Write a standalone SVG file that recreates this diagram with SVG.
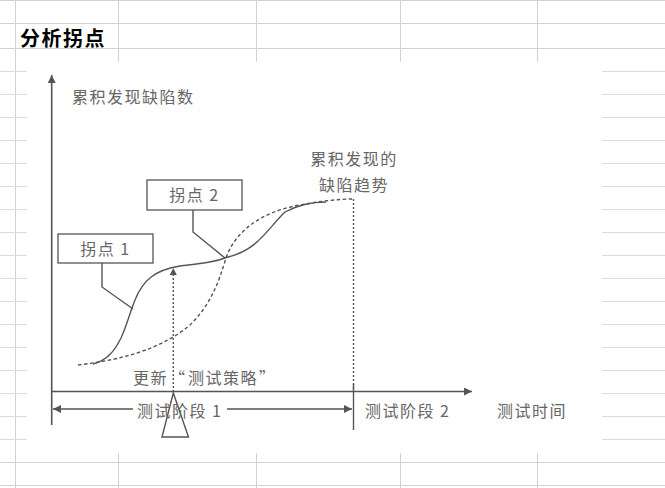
<svg xmlns="http://www.w3.org/2000/svg" width="665" height="488" viewBox="0 0 665 488">
<defs>
<style>
.grid{stroke:#d2d2d2;stroke-width:1;fill:none}
.gridl{stroke:#dcdcdc;stroke-width:1;fill:none}
.ax{stroke:#555;stroke-width:1.6;fill:none}
.ln{stroke:#555;stroke-width:1.4;fill:none}
.dash{stroke:#555;stroke-width:1.4;fill:none;stroke-dasharray:3.5 2.5}
.dot{stroke:#555;stroke-width:1.4;fill:none;stroke-dasharray:2 2}
.box{stroke:#555;stroke-width:1.3;fill:#fff}
.t{font-family:"Noto Sans CJK SC","Liberation Serif",sans-serif;font-size:16px;fill:#666;letter-spacing:1.5px}
.title{font-family:"Noto Sans CJK SC",sans-serif;font-size:20px;font-weight:bold;fill:#000;letter-spacing:1.5px}
</style>
<marker id="ah" viewBox="0 0 10 10" refX="10" refY="5" markerWidth="10" markerHeight="8" markerUnits="userSpaceOnUse" orient="auto-start-reverse">
<path d="M0,0 L10,5 L0,10 Z" fill="#555"/>
</marker>
<marker id="ahs" viewBox="0 0 10 10" refX="10" refY="5" markerWidth="9" markerHeight="7" markerUnits="userSpaceOnUse" orient="auto">
<path d="M0,0 L10,5 L0,10 Z" fill="#555"/>
</marker>
</defs>
<rect width="665" height="488" fill="#fff"/>
<g id="grid">
<path class="grid" d="M0,0.5H665M0,23.5H665M0,48.5H665M0,462.5H665M0,485.5H665"/>
<path class="grid" d="M15.5,0V488M118.5,0V62M256.5,0V62M400.5,0V62M537.5,0V62M118.5,453V488M256.5,453V488M400.5,453V488M537.5,453V488"/>
<path class="gridl" d="M0,71.5H27M0,94.5H27M0,117.5H27M0,140.5H27M0,163.5H27M0,186.5H27M0,209.5H27M0,232.5H27M0,255.5H27M0,278.5H27M0,301.5H27M0,324.5H27M0,347.5H27M0,370.5H27M0,393.5H27M0,416.5H27M0,439.5H27"/>
<path class="gridl" d="M602,71.5H665M602,94.5H665M602,117.5H665M602,140.5H665M602,163.5H665M602,186.5H665M602,209.5H665M602,232.5H665M602,255.5H665M602,278.5H665M602,301.5H665M602,324.5H665M602,347.5H665M602,370.5H665M602,393.5H665M602,416.5H665M602,439.5H665"/>
</g>
<text class="title" x="20" y="46">分析拐点</text>
<g id="connectors">
<path class="ax" d="M51.7,425V75" marker-end="url(#ah)"/>
<path class="ax" d="M51.7,391.5H472" marker-end="url(#ah)"/>
<path class="ln" d="M353.5,384V430"/>
<path class="ln" d="M133,409H53" marker-end="url(#ah)"/>
<path class="ln" d="M227,409H352" marker-end="url(#ah)"/>
<path class="ln" d="M93,364 C108,360 115,350 121,338 C127,325 130,312 135,300 C143,280 155,270 180,266 C205,263 215,262 228,257 C258,250 268,228 285,212 C298,205 310,202 326,202"/>
<path class="dash" d="M78,365 C120,360 160,350 190,325 C210,305 218,285 226,258 C235,232 260,212 300,205 C320,201 340,199 353,199"/>
<path class="dot" d="M353.5,199V390"/>
<path class="dot" d="M173.3,392V268" marker-end="url(#ahs)"/>
<path class="ln" d="M102,263V287L133,309"/>
<path class="ln" d="M193,210V232L225,258"/>
<path class="ln" d="M173.3,393L162,437H188.5Z"/>
</g>
<g id="node-inflection1">
<rect class="box" x="58" y="234" width="95" height="29"/>
<text class="t" x="105.5" y="255" text-anchor="middle">拐点 1</text>
</g>
<g id="node-inflection2">
<rect class="box" x="147" y="180" width="95" height="30"/>
<text class="t" x="194.5" y="201" text-anchor="middle">拐点 2</text>
</g>
<g id="label-yaxis"><text class="t" x="72" y="103">累积发现缺陷数</text></g>
<g id="label-trend">
<text class="t" x="354" y="165" text-anchor="middle">累积发现的</text>
<text class="t" x="354" y="191" text-anchor="middle">缺陷趋势</text>
</g>
<g id="label-update">
<text class="t" x="133" y="384">更新</text>
<text class="t" x="169" y="384">“<tspan x="188">测试策略</tspan><tspan x="259">”</tspan></text>
</g>
<g id="label-phase1"><text class="t" x="137" y="417">测试阶段 1</text></g>
<g id="label-phase2"><text class="t" x="365" y="417">测试阶段 2</text></g>
<g id="label-time"><text class="t" x="497" y="417">测试时间</text></g>
</svg>
